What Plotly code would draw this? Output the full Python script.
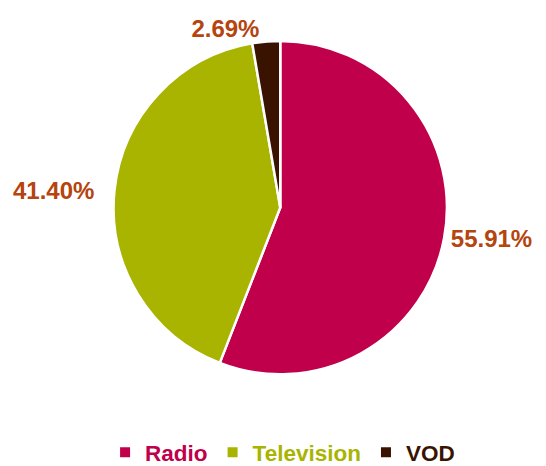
import plotly.graph_objects as go

categories = ["Radio", "Television", "VOD"]
values = [55.91, 41.40, 2.69]
colors = ["#C0004A", "#A8B400", "#3A1300"]
label_color = "#B5440E"

legend_names = [f"<span style='color:{c}'><b>{n}</b></span>" for n, c in zip(categories, colors)]

FONT = "Liberation Sans, Arial, sans-serif"
NB = "&nbsp;"
# per-slice label templates (padding pushes labels away from the pie as in the reference)
templates = [
    "<b>%{value:.2f}%</b>",
    "<b>%{value:.2f}%</b>" + NB * 2,
    "<b>%{value:.2f}%</b>",
]

fig = go.Figure(go.Pie(
    labels=legend_names,
    values=values,
    sort=False,
    direction="clockwise",
    rotation=0,
    domain=dict(x=[0.1465, 0.7925], y=[0.172, 0.929]),
    marker=dict(colors=colors, line=dict(color="white", width=2.5)),
    textposition="outside",
    texttemplate=templates,
    textfont=dict(family=FONT, size=24, color=label_color),
    outsidetextfont=dict(family=FONT, size=24, color=label_color),
    hoverinfo="skip",
))

fig.update_layout(
    width=546, height=466,
    margin=dict(l=0, r=0, t=0, b=0),
    paper_bgcolor="white",
    plot_bgcolor="white",
    font=dict(family=FONT),
    showlegend=True,
    legend=dict(
        orientation="h",
        x=0.474, xanchor="center",
        y=0.047, yanchor="top",
        font=dict(size=22.5, family=FONT),
        itemsizing="constant",
    ),
)

fig.write_html("out.html")
